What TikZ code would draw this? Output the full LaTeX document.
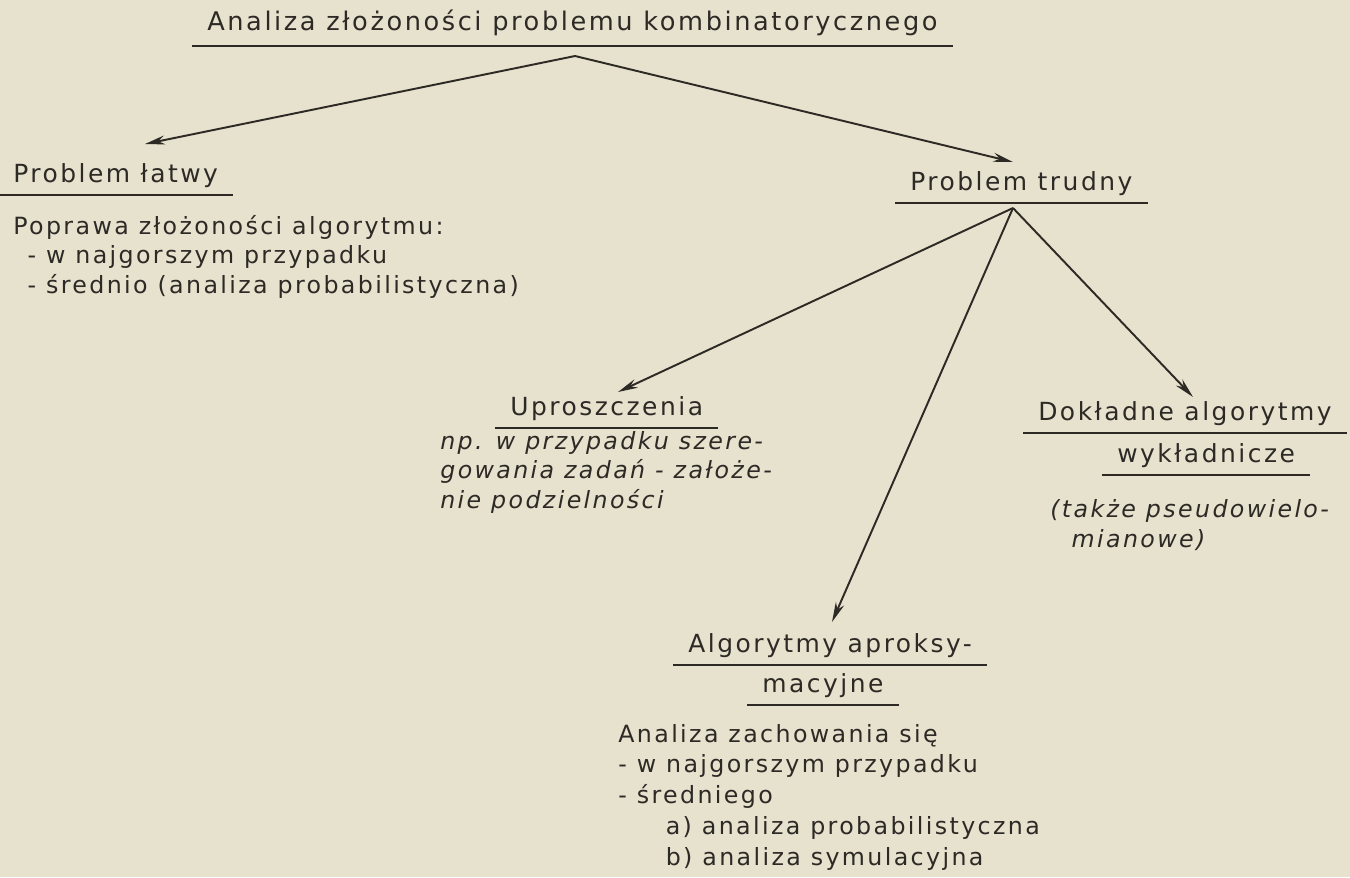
\documentclass[tikz,border=0pt]{standalone}
\usepackage{fontspec}
\setmainfont{DejaVu Sans}[LetterSpace=10]
\usepackage{tikz}
\usetikzlibrary{arrows.meta,positioning,calc}
\definecolor{ink}{RGB}{45,42,38}
\definecolor{paper}{RGB}{231,226,206}
\newcommand{\hdfont}{\fontsize{14.2}{17}\selectfont}
\newcommand{\txfont}{\fontsize{13.5}{16.7}\selectfont}
\tikzset{
  ul/.style={-,draw=ink,line width=1.1pt},
  hd/.style={font=\hdfont,text=ink,anchor=base west,inner xsep=8.5pt,
    inner ysep=0pt,text depth=7.4pt,
    append after command={(\tikzlastnode.south west) edge[ul] (\tikzlastnode.south east)}},
  tx/.style={font=\txfont,text=ink,anchor=base west,align=left,inner sep=0pt},
  ar/.style={-{Stealth[length=4mm,width=1.8mm,inset=1.3mm]},draw=ink,line width=1.1pt},
}

\begin{document}
\begin{tikzpicture}[x=0.02cm,y=-0.02cm]
  \useasboundingbox (0,0) rectangle (1350,877);
  \fill[paper] (0,0) rectangle (1350,877);
  % root (top)
  \node[hd,text depth=9pt,font=\fontsize{14.6}{17}\selectfont] (root) at (192,30)
    {Analiza złożoności problemu kombinatorycznego};
  % easy problem (left)
  \node[hd] (easy) at (-2,182) {Problem łatwy};
  \node[tx] (easytx) at (13,293) {Poprawa złożoności algorytmu:\\
    \hspace*{0.6em}- w najgorszym przypadku\\
    \hspace*{0.6em}- średnio (analiza probabilistyczna)};
  % hard problem (right)
  \node[hd] (hard) at (895,190) {Problem trudny};
  % three ways out of a hard problem
  \node[hd] (simp) at (495,415) {Uproszczenia};
  \node[tx,font=\txfont\itshape] (simptx) at (440,508) {np. w przypadku szere-\\
    gowania zadań - założe-\\nie podzielności};
  \node[hd] (exact1) at (1023,420) {Dokładne algorytmy};
  \node[hd] (exact2) at (1102,462) {wykładnicze};
  \node[tx,font=\txfont\itshape] (exacttx) at (1050,547) {(także pseudowielo-\\
    \hspace*{0.9em}mianowe)};
  \node[hd] (approx1) at (673,652) {Algorytmy aproksy-};
  \node[hd] (approx2) at (747,692) {macyjne};
  \node[tx,font=\fontsize{13.5}{17.5}\selectfont] (approxtx) at (618,865)
    {Analiza zachowania się\\
    - w najgorszym przypadku\\
    - średniego\\
    \hspace*{2em}a) analiza probabilistyczna\\
    \hspace*{2em}b) analiza symulacyjna};
  % connectors
  \coordinate (rootft) at ([shift={(383,26)}]root.base west);
  \coordinate (hardft) at ([shift={(118,18)}]hard.base west);
  \draw[ar] (rootft) -- ([shift={(147,-38)}]easy.base west);
  \draw[ar] (rootft) -- ([shift={(118,-28)}]hard.base west);
  \draw[ar] (hardft) -- ([shift={(123,-23)}]simp.base west);
  \draw[ar] (hardft) -- ([shift={(159,-30)}]approx1.base west);
  \draw[ar] (hardft) -- ([shift={(170,-23)}]exact1.base west);
\end{tikzpicture}
\end{document}
